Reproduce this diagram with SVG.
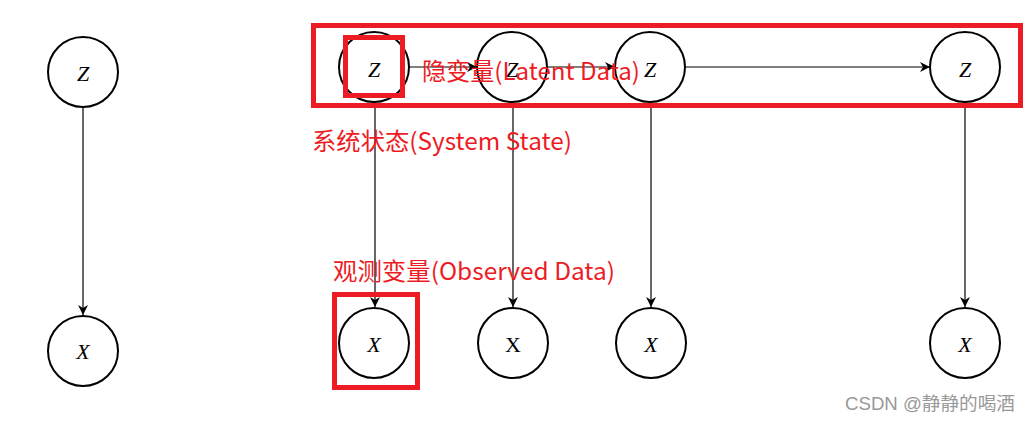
<svg xmlns="http://www.w3.org/2000/svg" width="1031" height="422" viewBox="0 0 1031 422">
<style>
.node circle{fill:#fff;stroke:#000;stroke-width:2}
.lbl{font-family:"Liberation Serif",serif;font-style:italic;font-size:22px;text-anchor:middle;fill:#000}
.edge{stroke:#000;stroke-width:1.2;fill:none;marker-end:url(#ah)}
.ann{font-family:"Noto Sans CJK SC","Noto Sans",sans-serif;font-size:24px;fill:#ED1C24}
.hl{fill:none;stroke:#ED1C24;stroke-width:5}
</style>
<defs>
<marker id="ah" viewBox="0 0 10 10" refX="10" refY="5" markerWidth="10" markerHeight="10" markerUnits="userSpaceOnUse" orient="auto">
<path d="M0,0 L10,5 L0,10 L3,5 z" fill="#000"/>
</marker>
</defs>
<rect width="1031" height="422" fill="#fff"/>
<g id="connectors">
<line class="edge" x1="83" y1="108" x2="83" y2="315"/>
<line class="edge" x1="409" y1="67" x2="477" y2="67"/>
<line class="edge" x1="547" y1="67" x2="615" y2="67"/>
<line class="edge" x1="686" y1="67" x2="930" y2="67"/>
<line class="edge" x1="375" y1="102" x2="375" y2="307"/>
<line class="edge" x1="513" y1="102" x2="513" y2="307"/>
<line class="edge" x1="651" y1="102" x2="651" y2="307"/>
<line class="edge" x1="965" y1="102" x2="965" y2="307"/>
</g>
<g id="z0" class="node"><circle cx="83" cy="72" r="35"/><text class="lbl" x="83" y="80.5">Z</text></g>
<g id="x0" class="node"><circle cx="83" cy="351" r="35"/><text class="lbl" x="83" y="359">X</text></g>
<g id="z1" class="node"><circle cx="374" cy="67" r="35"/><text class="lbl" x="374" y="77">Z</text></g>
<g id="z2" class="node"><circle cx="512" cy="67" r="35"/><text class="lbl" x="512" y="77">Z</text></g>
<g id="z3" class="node"><circle cx="650" cy="67" r="35"/><text class="lbl" x="650" y="77">Z</text></g>
<g id="z4" class="node"><circle cx="965" cy="67" r="35"/><text class="lbl" x="965" y="77">Z</text></g>
<g id="x1" class="node"><circle cx="374" cy="343" r="35"/><text class="lbl" x="374" y="351.5">X</text></g>
<g id="x2" class="node"><circle cx="513" cy="343" r="35"/><text class="lbl" x="513" y="351.5" style="font-style:normal">X</text></g>
<g id="x3" class="node"><circle cx="651" cy="343" r="35"/><text class="lbl" x="651" y="351.5">X</text></g>
<g id="x4" class="node"><circle cx="965" cy="343" r="35"/><text class="lbl" x="965" y="351.5">X</text></g>
<g id="highlights">
<rect class="hl" x="313.5" y="25.5" width="707" height="80" stroke-width="4.5"/>
<rect class="hl" x="345.5" y="37.5" width="57" height="58"/>
<rect class="hl" x="334.5" y="294.5" width="83" height="93"/>
</g>
<g id="annotations">
<text class="ann" x="422" y="80" textLength="218" lengthAdjust="spacingAndGlyphs">隐变量(Latent Data)</text>
<text class="ann" x="312" y="150" textLength="260" lengthAdjust="spacingAndGlyphs">系统状态(System State)</text>
<text class="ann" x="333" y="280" textLength="282" lengthAdjust="spacingAndGlyphs">观测变量(Observed Data)</text>
</g>
<text x="845" y="410" textLength="170" lengthAdjust="spacingAndGlyphs" font-family="'Liberation Sans','Noto Sans CJK SC',sans-serif" font-size="18" fill="#999">CSDN @静静的喝酒</text>
</svg>
